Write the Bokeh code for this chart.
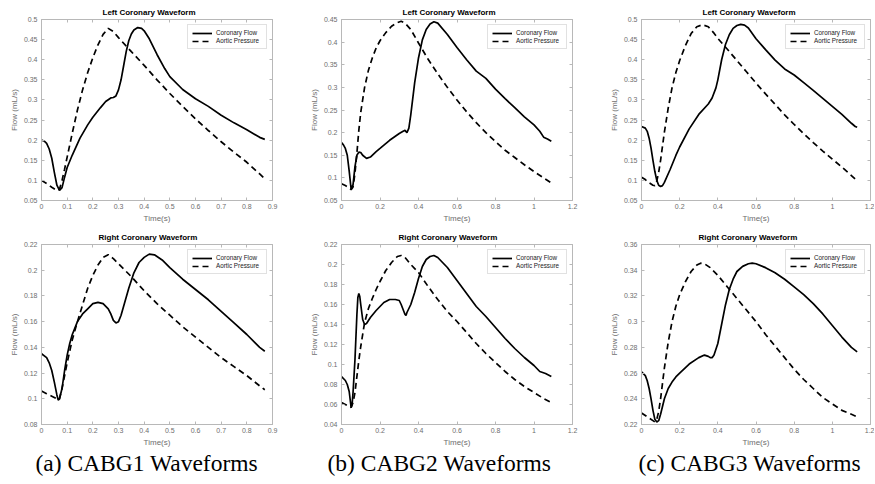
from bokeh.plotting import figure
from bokeh.layouts import column, row
from bokeh.models import FixedTicker, LinearAxis, Legend, LegendItem, Title, Range1d
from bokeh.embed import file_html
from bokeh.resources import INLINE

# ---------------- data ----------------
# (a) CABG1 - left coronary
l1_flow_t = [0, 0.01, 0.02, 0.03, 0.04, 0.05, 0.06, 0.07, 0.08, 0.09, 0.10, 0.12, 0.15, 0.18, 0.20, 0.23,
             0.25, 0.27, 0.28, 0.29, 0.30, 0.31, 0.32, 0.33, 0.34, 0.35, 0.36, 0.375, 0.39, 0.40, 0.42, 0.45,
             0.48, 0.50, 0.55, 0.60, 0.65, 0.70, 0.75, 0.80, 0.85, 0.87]
l1_flow_v = [0.200, 0.198, 0.192, 0.178, 0.155, 0.120, 0.088, 0.075, 0.082, 0.108, 0.132, 0.163, 0.205, 0.238,
             0.257, 0.281, 0.296, 0.305, 0.306, 0.310, 0.325, 0.350, 0.385, 0.420, 0.447, 0.464, 0.474, 0.480,
             0.478, 0.472, 0.452, 0.413, 0.378, 0.358, 0.326, 0.303, 0.284, 0.262, 0.243, 0.226, 0.207, 0.202]
l1_ao_t = [0, 0.02, 0.04, 0.06, 0.07, 0.08, 0.09, 0.10, 0.12, 0.14, 0.16, 0.18, 0.20, 0.22, 0.24, 0.26, 0.28,
           0.30, 0.35, 0.40, 0.45, 0.50, 0.55, 0.60, 0.65, 0.70, 0.75, 0.80, 0.85, 0.87]
l1_ao_v = [0.100, 0.092, 0.083, 0.075, 0.078, 0.100, 0.128, 0.158, 0.218, 0.275, 0.325, 0.368, 0.405, 0.437,
           0.463, 0.478, 0.470, 0.455, 0.420, 0.386, 0.350, 0.316, 0.284, 0.253, 0.224, 0.196, 0.170, 0.145,
           0.116, 0.104]

# (b) CABG2 - left coronary
l2_flow_t = [0, 0.01, 0.02, 0.03, 0.04, 0.05, 0.06, 0.07, 0.08, 0.09, 0.10, 0.11, 0.13, 0.15, 0.18, 0.20,
             0.25, 0.30, 0.32, 0.33, 0.34, 0.35, 0.36, 0.38, 0.40, 0.42, 0.44, 0.46, 0.48, 0.50, 0.55, 0.60,
             0.65, 0.70, 0.75, 0.80, 0.85, 0.90, 0.95, 1.00, 1.03, 1.05, 1.07, 1.09]
l2_flow_v = [0.178, 0.173, 0.165, 0.150, 0.115, 0.075, 0.085, 0.125, 0.150, 0.157, 0.156, 0.150, 0.143, 0.146,
             0.158, 0.165, 0.183, 0.198, 0.203, 0.205, 0.200, 0.210, 0.240, 0.310, 0.365, 0.405, 0.428, 0.440,
             0.445, 0.442, 0.417, 0.388, 0.361, 0.336, 0.320, 0.296, 0.275, 0.255, 0.235, 0.217, 0.203, 0.190,
             0.186, 0.181]
l2_ao_t = [0, 0.02, 0.04, 0.05, 0.06, 0.07, 0.08, 0.09, 0.10, 0.12, 0.14, 0.16, 0.18, 0.20, 0.23, 0.26, 0.29,
           0.31, 0.33, 0.36, 0.40, 0.45, 0.50, 0.55, 0.60, 0.65, 0.70, 0.75, 0.80, 0.85, 0.90, 0.95, 1.00, 1.05,
           1.09]
l2_ao_v = [0.087, 0.083, 0.078, 0.074, 0.080, 0.110, 0.155, 0.205, 0.245, 0.300, 0.338, 0.365, 0.387, 0.403,
           0.421, 0.435, 0.443, 0.446, 0.442, 0.428, 0.398, 0.362, 0.330, 0.300, 0.272, 0.246, 0.222, 0.200,
           0.180, 0.161, 0.145, 0.129, 0.114, 0.100, 0.089]

# (c) CABG3 - left coronary
l3_flow_t = [0, 0.02, 0.03, 0.04, 0.05, 0.06, 0.07, 0.08, 0.09, 0.10, 0.11, 0.12, 0.15, 0.18, 0.20, 0.25,
             0.30, 0.35, 0.37, 0.39, 0.40, 0.42, 0.44, 0.46, 0.48, 0.50, 0.52, 0.54, 0.56, 0.60, 0.65, 0.70,
             0.75, 0.80, 0.85, 0.90, 0.95, 1.00, 1.05, 1.10, 1.12, 1.13]
l3_flow_v = [0.234, 0.230, 0.222, 0.205, 0.180, 0.150, 0.122, 0.100, 0.088, 0.085, 0.087, 0.095, 0.127, 0.162,
             0.183, 0.228, 0.264, 0.290, 0.305, 0.330, 0.350, 0.400, 0.438, 0.462, 0.478, 0.485, 0.488, 0.486,
             0.479, 0.452, 0.425, 0.399, 0.377, 0.362, 0.343, 0.324, 0.304, 0.284, 0.264, 0.242, 0.234, 0.232]
l3_ao_t = [0, 0.02, 0.04, 0.06, 0.07, 0.08, 0.09, 0.10, 0.12, 0.14, 0.16, 0.18, 0.20, 0.23, 0.26, 0.29, 0.32,
           0.35, 0.38, 0.40, 0.45, 0.50, 0.55, 0.60, 0.65, 0.70, 0.75, 0.80, 0.85, 0.90, 0.95, 1.00, 1.05, 1.10,
           1.13]
l3_ao_v = [0.108, 0.102, 0.094, 0.088, 0.087, 0.098, 0.120, 0.150, 0.220, 0.280, 0.330, 0.368, 0.398, 0.435,
           0.465, 0.482, 0.487, 0.482, 0.466, 0.453, 0.426, 0.398, 0.370, 0.342, 0.315, 0.289, 0.263, 0.239,
           0.216, 0.194, 0.173, 0.153, 0.133, 0.112, 0.099]

# (a) CABG1 - right coronary
r1_flow_t = [0, 0.02, 0.03, 0.04, 0.05, 0.06, 0.065, 0.07, 0.08, 0.09, 0.10, 0.11, 0.12, 0.14, 0.16, 0.18,
             0.20, 0.22, 0.24, 0.26, 0.27, 0.28, 0.29, 0.30, 0.31, 0.32, 0.34, 0.36, 0.38, 0.40, 0.42, 0.44,
             0.47, 0.50, 0.55, 0.60, 0.65, 0.70, 0.75, 0.80, 0.85, 0.87]
r1_flow_v = [0.135, 0.132, 0.128, 0.122, 0.113, 0.103, 0.099, 0.100, 0.108, 0.122, 0.134, 0.143, 0.150, 0.160,
             0.166, 0.170, 0.174, 0.175, 0.174, 0.170, 0.166, 0.161, 0.159, 0.160, 0.165, 0.172, 0.186, 0.198,
             0.206, 0.210, 0.2125, 0.212, 0.208, 0.202, 0.193, 0.185, 0.177, 0.168, 0.159, 0.150, 0.140, 0.137]
r1_ao_t = [0, 0.02, 0.04, 0.06, 0.065, 0.07, 0.08, 0.10, 0.12, 0.14, 0.16, 0.18, 0.20, 0.22, 0.24, 0.26, 0.28,
           0.30, 0.35, 0.40, 0.45, 0.50, 0.55, 0.60, 0.65, 0.70, 0.75, 0.80, 0.85, 0.87]
r1_ao_v = [0.106, 0.104, 0.102, 0.100, 0.099, 0.100, 0.108, 0.128, 0.146, 0.160, 0.173, 0.186, 0.196, 0.204,
           0.210, 0.212, 0.209, 0.205, 0.195, 0.184, 0.174, 0.165, 0.156, 0.148, 0.140, 0.132, 0.125, 0.118,
           0.110, 0.107]

# (b) CABG2 - right coronary
r2_flow_t = [0, 0.02, 0.03, 0.04, 0.045, 0.05, 0.055, 0.06, 0.07, 0.08, 0.085, 0.09, 0.095, 0.10, 0.11, 0.12,
             0.13, 0.15, 0.18, 0.20, 0.22, 0.25, 0.28, 0.30, 0.31, 0.32, 0.33, 0.335, 0.34, 0.36, 0.38, 0.40,
             0.42, 0.44, 0.46, 0.48, 0.50, 0.55, 0.60, 0.65, 0.70, 0.75, 0.80, 0.85, 0.90, 0.95, 1.00, 1.03,
             1.06, 1.09]
r2_flow_v = [0.088, 0.084, 0.080, 0.073, 0.065, 0.057, 0.060, 0.072, 0.105, 0.150, 0.167, 0.171, 0.168, 0.160,
             0.145, 0.140, 0.141, 0.147, 0.154, 0.158, 0.162, 0.165, 0.165, 0.164, 0.160, 0.155, 0.150, 0.149,
             0.152, 0.160, 0.172, 0.186, 0.198, 0.205, 0.208, 0.209, 0.207, 0.197, 0.184, 0.171, 0.158, 0.148,
             0.137, 0.126, 0.116, 0.107, 0.099, 0.093, 0.091, 0.088]
r2_ao_t = [0, 0.02, 0.04, 0.05, 0.06, 0.07, 0.08, 0.09, 0.10, 0.12, 0.14, 0.16, 0.18, 0.20, 0.23, 0.26, 0.29,
           0.31, 0.33, 0.36, 0.40, 0.45, 0.50, 0.55, 0.60, 0.65, 0.70, 0.75, 0.80, 0.85, 0.90, 0.95, 1.00, 1.05,
           1.09]
r2_ao_v = [0.062, 0.060, 0.058, 0.057, 0.062, 0.072, 0.088, 0.104, 0.118, 0.142, 0.156, 0.166, 0.175, 0.183,
           0.194, 0.202, 0.208, 0.209, 0.207, 0.200, 0.192, 0.178, 0.165, 0.153, 0.143, 0.132, 0.121, 0.111,
           0.102, 0.093, 0.085, 0.078, 0.072, 0.066, 0.062]

# (c) CABG3 - right coronary
r3_flow_t = [0, 0.02, 0.03, 0.04, 0.05, 0.06, 0.07, 0.08, 0.09, 0.10, 0.11, 0.12, 0.14, 0.16, 0.18, 0.20,
             0.25, 0.30, 0.33, 0.35, 0.36, 0.37, 0.38, 0.40, 0.42, 0.44, 0.46, 0.48, 0.50, 0.53, 0.56, 0.58,
             0.60, 0.65, 0.70, 0.75, 0.80, 0.85, 0.90, 0.95, 1.00, 1.05, 1.10, 1.13]
r3_flow_v = [0.261, 0.258, 0.254, 0.248, 0.240, 0.231, 0.224, 0.222, 0.223, 0.228, 0.234, 0.240, 0.248, 0.253,
             0.257, 0.260, 0.267, 0.272, 0.274, 0.273, 0.272, 0.272, 0.274, 0.283, 0.298, 0.313, 0.325, 0.333,
             0.339, 0.343, 0.345, 0.3455, 0.345, 0.342, 0.338, 0.333, 0.327, 0.321, 0.314, 0.306, 0.297, 0.288,
             0.280, 0.2765]
r3_ao_t = [0, 0.02, 0.04, 0.06, 0.07, 0.08, 0.09, 0.10, 0.11, 0.12, 0.14, 0.16, 0.18, 0.20, 0.23, 0.26, 0.29,
           0.31, 0.33, 0.36, 0.40, 0.45, 0.50, 0.55, 0.60, 0.65, 0.70, 0.75, 0.80, 0.85, 0.90, 0.95, 1.00, 1.05,
           1.10, 1.13]
r3_ao_v = [0.229, 0.227, 0.225, 0.223, 0.222, 0.224, 0.230, 0.240, 0.252, 0.264, 0.284, 0.300, 0.312, 0.321,
           0.331, 0.339, 0.344, 0.3455, 0.345, 0.342, 0.336, 0.327, 0.318, 0.309, 0.300, 0.290, 0.281, 0.272,
           0.263, 0.255, 0.248, 0.241, 0.236, 0.231, 0.228, 0.226]

# ticks
xticks_a = [0, 0.1, 0.2, 0.3, 0.4, 0.5, 0.6, 0.7, 0.8, 0.9]
xlabels_a = ["0", "0.1", "0.2", "0.3", "0.4", "0.5", "0.6", "0.7", "0.8", "0.9"]
xticks_bc = [0, 0.2, 0.4, 0.6, 0.8, 1.0, 1.2]
xlabels_bc = ["0", "0.2", "0.4", "0.6", "0.8", "1", "1.2"]
yticks_l = [0.05, 0.1, 0.15, 0.2, 0.25, 0.3, 0.35, 0.4, 0.45, 0.5]
ylabels_l = ["0.05", "0.1", "0.15", "0.2", "0.25", "0.3", "0.35", "0.4", "0.45", "0.5"]
yticks_l2 = [0.05, 0.1, 0.15, 0.2, 0.25, 0.3, 0.35, 0.4, 0.45]
ylabels_l2 = ["0.05", "0.1", "0.15", "0.2", "0.25", "0.3", "0.35", "0.4", "0.45"]
yticks_r1 = [0.08, 0.1, 0.12, 0.14, 0.16, 0.18, 0.2, 0.22]
ylabels_r1 = ["0.08", "0.1", "0.12", "0.14", "0.16", "0.18", "0.2", "0.22"]
yticks_r2 = [0.04, 0.06, 0.08, 0.1, 0.12, 0.14, 0.16, 0.18, 0.2, 0.22]
ylabels_r2 = ["0.04", "0.06", "0.08", "0.1", "0.12", "0.14", "0.16", "0.18", "0.2", "0.22"]
yticks_r3 = [0.22, 0.24, 0.26, 0.28, 0.3, 0.32, 0.34, 0.36]
ylabels_r3 = ["0.22", "0.24", "0.26", "0.28", "0.3", "0.32", "0.34", "0.36"]

titles = ["Left Coronary Waveform", "Right Coronary Waveform"]
captions = ["(a) CABG1 Waveforms", "(b) CABG2 Waveforms", "(c) CABG3 Waveforms"]
series_names = ["Coronary Flow", "Aortic Pressure"]

AX = "#b8b8b8"
LBL = "#6e6e6e"
SANS = "Liberation Sans"


def panel(title, title_off, ft, fv, at, av, xr, yr, xt, xl, yt, yl, width, height,
          bl, br, bt, bb, caption=None, cap_off=0):
    p = figure(width=width, height=height, output_backend="svg", toolbar_location=None,
               x_range=Range1d(*xr), y_range=Range1d(*yr),
               min_border_left=bl, min_border_right=br, min_border_top=bt, min_border_bottom=bb,
               title=None)
    p.background_fill_color = "white"
    p.border_fill_color = "white"
    p.outline_line_color = AX
    p.xgrid.visible = False
    p.ygrid.visible = False

    xa = p.xaxis[0]
    ya = p.yaxis[0]
    xa.ticker = FixedTicker(ticks=xt)
    xa.major_label_overrides = {t: s for t, s in zip(xt, xl)}
    ya.ticker = FixedTicker(ticks=yt)
    ya.major_label_overrides = {t: s for t, s in zip(yt, yl)}
    xa.axis_label = "Time(s)"
    ya.axis_label = "Flow (mL/s)"
    for ax in (xa, ya):
        ax.axis_line_color = AX
        ax.major_tick_line_color = AX
        ax.major_tick_in = 3
        ax.major_tick_out = 0
        ax.minor_tick_line_color = None
        ax.major_label_text_font = SANS
        ax.major_label_text_font_size = "7px"
        ax.major_label_text_color = LBL
        ax.axis_label_text_font = SANS
        ax.axis_label_text_font_size = "8px"
        ax.axis_label_text_font_style = "normal"
        ax.axis_label_text_color = LBL
        ax.major_label_standoff = 4
        ax.axis_label_standoff = 2
    xa.major_label_standoff = 3
    xa.axis_label_standoff = 2

    top = LinearAxis(ticker=FixedTicker(ticks=xt), major_label_text_font_size="0px",
                     major_label_text_color=None, major_label_standoff=0,
                     major_tick_in=3, major_tick_out=0, minor_tick_line_color=None,
                     axis_line_color=AX, major_tick_line_color=AX)
    right = LinearAxis(ticker=FixedTicker(ticks=yt), major_label_text_font_size="0px",
                       major_label_text_color=None, major_label_standoff=0,
                       major_tick_in=3, major_tick_out=0, minor_tick_line_color=None,
                       axis_line_color=AX, major_tick_line_color=AX)
    p.add_layout(top, "above")
    p.add_layout(right, "right")

    p.add_layout(Title(text=title, align="left", offset=title_off, text_font=SANS, text_font_size="8px",
                       text_font_style="bold", text_color="black", standoff=5), "above")

    r1 = p.line(ft, fv, line_color="black", line_width=1.7)
    r2 = p.line(at, av, line_color="black", line_width=1.7, line_dash="6 4")
    leg = Legend(items=[LegendItem(label=series_names[0], renderers=[r1]),
                        LegendItem(label=series_names[1], renderers=[r2])],
                 location="top_right", margin=5, padding=4, spacing=1,
                 glyph_width=20, glyph_height=6, label_height=6, label_width=46,
                 label_standoff=4, label_text_font=SANS, label_text_font_size="6.3px",
                 label_text_color="#222222", border_line_color="#c4c4c4", border_line_width=1,
                 background_fill_color="white", background_fill_alpha=1.0)
    p.add_layout(leg)

    if caption is not None:
        p.add_layout(Title(text=caption, align="left", offset=cap_off, vertical_align="top",
                           text_font="Liberation Serif", text_font_size="23.5px",
                           text_font_style="normal", text_color="black", standoff=0), "below")
    return p


TOP_H = 228
BOT_H = 255
W = [300, 300, 274]
BR = [28, 28, 4]
BL = 41
TT = 61   # top-title left offset from frame
BT = 57   # bottom-title left offset from frame

p1 = panel(titles[0], TT, l1_flow_t, l1_flow_v, l1_ao_t, l1_ao_v, (0, 0.9), (0.05, 0.5),
           xticks_a, xlabels_a, yticks_l, ylabels_l, W[0], TOP_H, BL, BR[0], 18, 28)
p2 = panel(titles[0], TT, l2_flow_t, l2_flow_v, l2_ao_t, l2_ao_v, (0, 1.2), (0.05, 0.45),
           xticks_bc, xlabels_bc, yticks_l2, ylabels_l2, W[1], TOP_H, BL, BR[1], 19, 28)
p3 = panel(titles[0], TT, l3_flow_t, l3_flow_v, l3_ao_t, l3_ao_v, (0, 1.2), (0.05, 0.5),
           xticks_bc, xlabels_bc, yticks_l, ylabels_l, W[2], TOP_H, BL, BR[2], 18, 28)
p4 = panel(titles[1], BT, r1_flow_t, r1_flow_v, r1_ao_t, r1_ao_v, (0, 0.9), (0.08, 0.22),
           xticks_a, xlabels_a, yticks_r1, ylabels_r1, W[0], BOT_H, BL, BR[0], 15, 59,
           caption=captions[0], cap_off=-6)
p5 = panel(titles[1], BT, r2_flow_t, r2_flow_v, r2_ao_t, r2_ao_v, (0, 1.2), (0.04, 0.22),
           xticks_bc, xlabels_bc, yticks_r2, ylabels_r2, W[1], BOT_H, BL, BR[1], 15, 59,
           caption=captions[1], cap_off=-14)
p6 = panel(titles[1], BT, r3_flow_t, r3_flow_v, r3_ao_t, r3_ao_v, (0, 1.2), (0.22, 0.36),
           xticks_bc, xlabels_bc, yticks_r3, ylabels_r3, W[2], BOT_H, BL, BR[2], 15, 59,
           caption=captions[2], cap_off=-3)

layout = column(row(p1, p2, p3), row(p4, p5, p6))

open("out.html", "w").write(file_html(layout, INLINE))
